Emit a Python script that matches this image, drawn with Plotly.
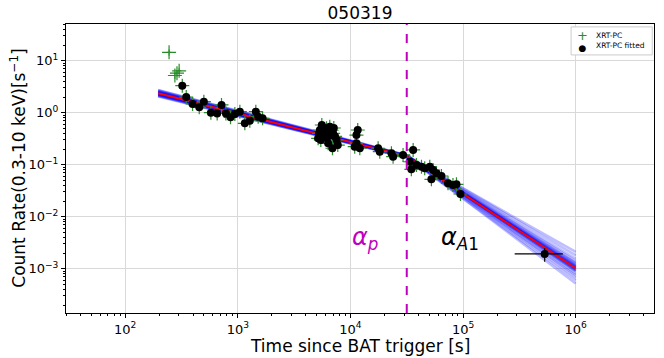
import plotly.graph_objects as go

# ---------------- data ----------------
# XRT-PC points not used in the fit
t_pc_only = [245, 276, 288, 301]
rate_pc_only = [14.5, 5.2, 5.75, 6.4]

# XRT-PC points used in the fit
t_fit = [321, 348, 396, 454, 499, 576, 655, 716, 783, 861, 940, 1042, 1153, 1277,
         1444, 1515, 1657,
         5160, 5250, 5350, 5450, 5565, 5715, 5800, 5915, 6125, 6170, 6330, 6400,
         6550, 6685, 6800, 6920, 7015, 7110, 7300, 7515, 7715,
         10900, 11300, 11300, 11600, 12100,
         17600, 18200, 23100, 23900, 29300, 33600, 34700, 36000, 38500, 42700,
         45600, 50600, 52300, 54100, 58000, 64200, 73400, 81300, 87300, 94700]
rate_fit = [3.31, 2.0, 1.47, 1.27, 1.63, 1.0, 0.97, 1.41, 0.97, 0.815, 0.944, 1.045,
            0.625, 0.70, 1.045, 0.838, 0.78,
            0.322, 0.40, 0.465, 0.30, 0.58, 0.345, 0.38, 0.445, 0.50, 0.326, 0.258,
            0.42, 0.538, 0.372, 0.46, 0.207, 0.402, 0.508, 0.35, 0.299, 0.239,
            0.222, 0.372, 0.258, 0.465, 0.207,
            0.207, 0.178, 0.166, 0.1425, 0.154, 0.114, 0.0816, 0.192, 0.0987, 0.0916,
            0.0853, 0.0916, 0.0524, 0.079, 0.0684, 0.0606, 0.0439, 0.0407, 0.042, 0.0273]

# late point with large time bin
t_late = [530000]
rate_late = [0.00192]
t_late_err_minus = [243000]
t_late_err_plus = [239000]
rate_late_err = [0.00056]

# best-fit broken power law (nodes: start, break, end)
fit_t = [196, 31600, 1.0e6]
fit_rate = [2.36, 0.145, 1.02e-3]
t_break = 31600

# posterior sample curves (rate at start, break, end)
samp_start = [2.60, 2.15, 2.50, 2.25, 2.75, 2.05, 2.45, 2.30, 2.40, 2.20,
              2.55, 2.28, 2.65, 2.10, 2.38, 2.33, 2.70, 2.12, 2.48, 2.24,
              2.42, 2.31, 2.52, 2.19]
samp_break = [0.150, 0.140, 0.147, 0.143, 0.152, 0.138, 0.146, 0.144, 0.149, 0.141,
              0.148, 0.142, 0.151, 0.139, 0.145, 0.146, 0.150, 0.141, 0.147, 0.143,
              0.146, 0.144, 0.147, 0.143]
samp_end = [1.40e-3, 0.75e-3, 1.20e-3, 0.88e-3, 1.80e-3, 0.60e-3, 1.10e-3, 0.95e-3,
            1.30e-3, 0.80e-3, 1.05e-3, 1.15e-3, 0.90e-3, 1.25e-3, 2.10e-3, 0.52e-3,
            1.00e-3, 1.05e-3, 1.55e-3, 0.68e-3, 0.98e-3, 1.08e-3, 0.93e-3, 1.12e-3]

x_tickvals = [1e2, 1e3, 1e4, 1e5, 1e6]
x_ticktext = ["10<sup>2</sup>", "10<sup>3</sup>", "10<sup>4</sup>", "10<sup>5</sup>", "10<sup>6</sup>"]
y_tickvals = [1e-3, 1e-2, 1e-1, 1e0, 1e1]
y_ticktext = ["10<sup>−3</sup>", "10<sup>−2</sup>", "10<sup>−1</sup>", "10<sup>0</sup>", "10<sup>1</sup>"]

legend_labels = ["XRT-PC", "XRT-PC fitted"]

FONT = "DejaVu Sans"
GREEN = "rgb(40,140,40)"

fig = go.Figure()

# sample curves
for s, b, e in zip(samp_start, samp_break, samp_end):
    fig.add_trace(go.Scatter(x=fit_t, y=[s, b, e], mode="lines",
                             line=dict(color="rgba(0,0,255,0.25)", width=2.5),
                             showlegend=False, hoverinfo="skip"))

# best fit
fig.add_trace(go.Scatter(x=fit_t, y=fit_rate, mode="lines",
                         line=dict(color="red", width=2),
                         showlegend=False, hoverinfo="skip"))

# all XRT-PC data as green crosses
fig.add_trace(go.Scatter(
    x=t_pc_only + t_fit, y=rate_pc_only + rate_fit, mode="markers",
    marker=dict(symbol="cross-thin", size=10, line=dict(color=GREEN, width=1.2)),
    error_y=dict(type="percent", value=14, color=GREEN, thickness=1, width=0),
    error_x=dict(type="percent", value=5, color=GREEN, thickness=1, width=0),
    name=legend_labels[0], showlegend=False))

# fitted data as black circles
fig.add_trace(go.Scatter(
    x=t_fit, y=rate_fit, mode="markers",
    marker=dict(symbol="circle", size=8, color="black"),
    error_y=dict(type="percent", value=14, color="black", thickness=1.2, width=0),
    error_x=dict(type="percent", value=5, color="black", thickness=1.2, width=0),
    name=legend_labels[1], showlegend=False))

fig.add_trace(go.Scatter(
    x=t_late, y=rate_late, mode="markers",
    marker=dict(symbol="circle", size=8, color="black"),
    error_y=dict(type="data", array=rate_late_err, color="black", thickness=1.2, width=0),
    error_x=dict(type="data", array=t_late_err_plus, arrayminus=t_late_err_minus,
                 color="black", thickness=1.2, width=0),
    showlegend=False))

# break time line
fig.add_shape(type="line", xref="x", yref="paper", x0=t_break, x1=t_break, y0=0, y1=1,
              line=dict(color="#BF00BF", width=2, dash="dash"))

fig.add_annotation(x=4.0, y=-2.42, xref="x", yref="y", text="<i>α</i><sub><i>p</i></sub>",
                   showarrow=False, xanchor="left", yanchor="middle",
                   font=dict(family=FONT, size=24, color="#BF00BF"))
fig.add_annotation(x=4.79, y=-2.42, xref="x", yref="y", text="<i>α</i><sub><i>A</i>1</sub>",
                   showarrow=False, xanchor="left", yanchor="middle",
                   font=dict(family=FONT, size=24, color="black"))

# axis titles
fig.add_annotation(x=0.5, y=-0.113, xref="paper", yref="paper", text="Time since BAT trigger [s]",
                   showarrow=False, xanchor="center", yanchor="middle",
                   font=dict(family=FONT, size=17, color="black"))
fig.add_annotation(x=-0.083, y=0.5, xref="paper", yref="paper",
                   text="Count Rate(0.3-10 keV)[s<sup>−1</sup>]", textangle=-90,
                   showarrow=False, xanchor="center", yanchor="middle",
                   font=dict(family=FONT, size=17, color="black"))

# compact legend box (matplotlib style)
fig.add_shape(type="rect", xref="paper", yref="paper", x0=0.859, x1=0.997, y0=0.893, y1=0.990,
              line=dict(color="#cccccc", width=1), fillcolor="white", layer="above")
fig.add_annotation(x=0.878, y=0.942, xref="paper", yref="paper",
                   text=f"<span style='color:{GREEN};font-size:13px'>+</span><br>"
                        "<span style='font-size:9px'>●</span>",
                   showarrow=False, xanchor="center", yanchor="middle", align="center",
                   font=dict(family=FONT, size=8.5, color="black"))
fig.add_annotation(x=0.898, y=0.942, xref="paper", yref="paper",
                   text=legend_labels[0] + "<br>" + legend_labels[1],
                   showarrow=False, xanchor="left", yanchor="middle", align="left",
                   font=dict(family=FONT, size=7.5, color="black"))

axis_common = dict(type="log", automargin=False,
                   showline=True, linecolor="black", linewidth=1, mirror=True,
                   ticks="outside", ticklen=4, tickwidth=1, tickcolor="black",
                   showgrid=True, gridcolor="#d9d9d9", gridwidth=1,
                   zeroline=False,
                   tickfont=dict(family=FONT, size=13, color="black"),
                   minor=dict(dtick="D1", ticks="outside", ticklen=2, tickwidth=0.8,
                              tickcolor="black", showgrid=False))

fig.update_layout(
    width=664, height=358,
    margin=dict(l=66, r=10, t=24, b=45),
    paper_bgcolor="white", plot_bgcolor="white",
    font=dict(family=FONT, color="black"),
    showlegend=False,
    title=dict(text="050319", x=0.5, xref="paper", xanchor="center", y=0.964, yanchor="middle",
               font=dict(family=FONT, size=17, color="black")),
    xaxis=dict(axis_common, range=[1.474, 6.695], tickmode="array",
               tickvals=x_tickvals, ticktext=x_ticktext),
    yaxis=dict(axis_common, range=[-3.852, 1.706], tickmode="array",
               tickvals=y_tickvals, ticktext=y_ticktext),
)

fig.write_html("out.html", config={"displayModeBar": False},
               post_script="document.body.style.margin='0';document.body.style.overflow='hidden';")
